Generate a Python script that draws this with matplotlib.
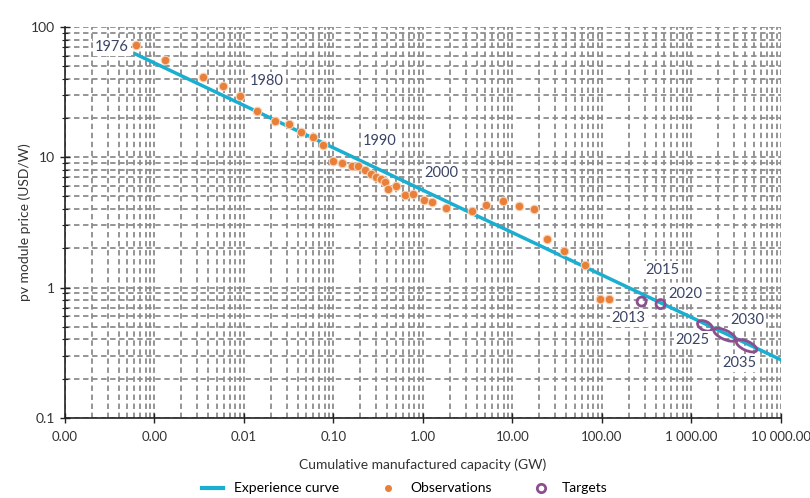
import numpy as np
import matplotlib
matplotlib.use('Agg')
import matplotlib.pyplot as plt
from matplotlib.lines import Line2D
from matplotlib.patches import Ellipse
from matplotlib.ticker import LogLocator

# observed module prices (capacity in GW, price in USD/W)
obs_cap = [6.3e-4, 1.32e-3, 3.46e-3, 5.78e-3, 9.18e-3, 0.0141, 0.0224, 0.0321,
           0.0430, 0.0586, 0.0764, 0.0995, 0.124, 0.160, 0.189, 0.225, 0.267,
           0.299, 0.340, 0.376, 0.409, 0.508, 0.629, 0.780, 1.03, 1.28, 1.81,
           3.50, 5.02, 7.78, 11.9, 17.4, 24.1, 37.6, 64.6, 95.0, 119.7]
obs_price = [72.0, 56.2, 41.6, 34.9, 29.6, 22.7, 19.1, 17.9, 15.5, 14.2, 12.3,
             9.43, 9.01, 8.59, 8.59, 8.0, 7.46, 7.11, 6.79, 6.40, 5.69, 5.96,
             5.14, 5.24, 4.71, 4.57, 4.06, 3.89, 4.26, 4.65, 4.24, 4.00, 2.35,
             1.89, 1.49, 0.815, 0.815]

# experience curve end points
curve_cap = [6.2e-4, 1.0e4]
curve_price = [61.8, 0.279]

# targets: capacity range and price range
target_cap_lo = [278, 453, 1310, 1990, 3550]
target_cap_hi = [278, 453, 1530, 2800, 4830]
target_price_hi = [0.78, 0.746, 0.521, 0.459, 0.375]
target_price_lo = [0.78, 0.746, 0.495, 0.411, 0.340]

# year annotations
year_text = ['1976', '1980', '1990', '2000', '2013', '2015', '2020', '2025', '2030', '2035']
year_cap = [3.35e-4, 0.0181, 0.331, 1.59, 200, 481, 846, 1040, 4170, 3480]
year_price = [70.3, 38.6, 13.4, 7.59, 0.585, 1.37, 0.895, 0.397, 0.565, 0.264]

xtick_vals = [1e-4, 1e-3, 1e-2, 1e-1, 1, 10, 100, 1000, 10000]
xtick_labels = ['0.00', '0.00', '0.01', '0.10', '1.00', '10.00', '100.00',
                '1 000.00', '10 000.00']
ytick_vals = [0.1, 1, 10, 100]
ytick_labels = ['0.1', '1', '10', '100']

plt.rcParams['font.family'] = ['Lato', 'DejaVu Sans']
plt.rcParams['font.size'] = 10

c_line = '#1aaed0'
c_obs = '#e8803a'
c_tgt = '#8b4f8f'
c_txt = '#3b4466'

fig = plt.figure(figsize=(8.1, 4.98), dpi=100)
ax = fig.add_axes([0.080, 0.161, 0.884, 0.785])
ax.set_xscale('log')
ax.set_yscale('log')
ax.set_xlim(1e-4, 1e4)
ax.set_ylim(0.1, 100)

ax.xaxis.set_minor_locator(LogLocator(base=10, subs=np.arange(2, 10), numticks=50))
ax.yaxis.set_minor_locator(LogLocator(base=10, subs=np.arange(2, 10), numticks=50))
ax.set_axisbelow(True)
ax.grid(which='both', linestyle=(0, (3, 2)), color='#8c8c8c', linewidth=1.3)

ax.plot(curve_cap, curve_price, color=c_line, lw=2.5, zorder=3)
ax.scatter(obs_cap, obs_price, s=38, color=c_obs, edgecolor='#f8d2b4',
           linewidth=0.8, zorder=4)

# targets as ellipses stretched along the curve (drawn in pixel space)
for lo, hi, plo, phi in zip(target_cap_lo, target_cap_hi, target_price_lo, target_price_hi):
    p1 = ax.transData.transform((lo, phi))
    p2 = ax.transData.transform((hi, plo))
    mid = (p1 + p2) / 2
    d = p2 - p1
    length = np.hypot(d[0], d[1])
    ang = np.degrees(np.arctan2(d[1], d[0]))
    e = Ellipse(mid, length + 9, 9, angle=ang, fill=False, edgecolor=c_tgt,
                linewidth=2, transform=None, zorder=5)
    ax.add_artist(e)

for t, x, y in zip(year_text, year_cap, year_price):
    ax.text(x, y, t, ha='center', va='center', fontsize=10.5, color=c_txt,
            bbox=dict(facecolor='white', edgecolor='none', pad=1.5), zorder=6)

ax.set_xticks(xtick_vals)
ax.set_xticklabels(xtick_labels)
ax.set_yticks(ytick_vals)
ax.set_yticklabels(ytick_labels)
ax.tick_params(axis='both', which='major', direction='inout', length=7,
               width=1, labelsize=10, labelcolor='#333333', color='#222222')
ax.tick_params(axis='x', labelsize=9.5, pad=6)
ax.tick_params(axis='y', which='minor', direction='inout', length=4, width=0.8,
               color='#222222')
ax.tick_params(axis='x', which='minor', length=0)

for s in ['top', 'right']:
    ax.spines[s].set_visible(False)
for s in ['left', 'bottom']:
    ax.spines[s].set_color('#222222')
    ax.spines[s].set_linewidth(1.2)

ax.set_xlabel('Cumulative manufactured capacity (GW)', fontsize=10,
              color='#333333', labelpad=11)
ax.set_ylabel('pv module price (USD/W)', fontsize=10, color='#333333',
              labelpad=0)

handles = [
    Line2D([], [], color=c_line, lw=3),
    Line2D([], [], marker='o', ls='none', color=c_obs, markersize=4),
    Line2D([], [], marker='o', ls='none', markerfacecolor='none',
           markeredgecolor=c_tgt, markeredgewidth=2, markersize=6),
]
fig.legend(handles, ['Experience curve', 'Observations', 'Targets'],
           loc='lower center', bbox_to_anchor=(0.5, -0.018), ncol=3,
           frameon=False, columnspacing=2.8, handlelength=1.5, fontsize=10)

fig.savefig('out.png', dpi=100)
